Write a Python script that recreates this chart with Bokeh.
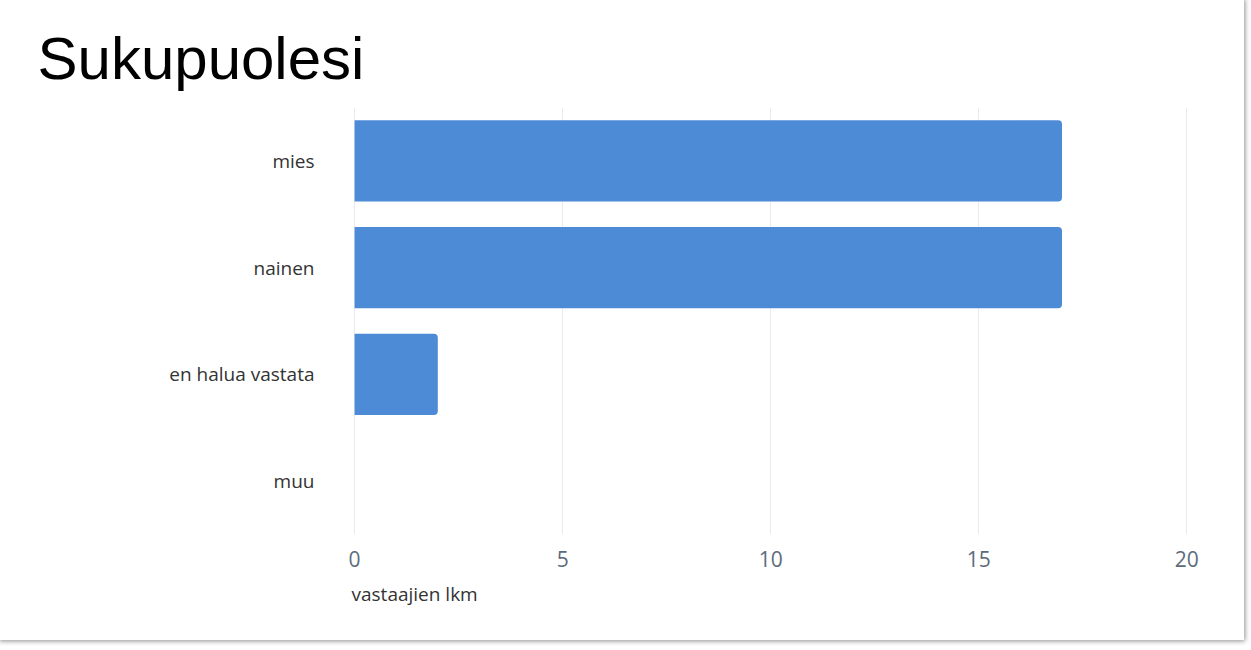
from bokeh.plotting import figure
from bokeh.models import Range1d, FactorRange, Title, FixedTicker
from bokeh.embed import file_html
from bokeh.resources import INLINE

# Data
categories = ["mies", "nainen", "en halua vastata", "muu"]
counts = [17, 17, 2, 0]
x_ticks = [0, 5, 10, 15, 20]

title_text = "Sukupuolesi"
x_title = "vastaajien lkm"

p = figure(
    width=1244, height=640,
    y_range=FactorRange(factors=list(reversed(categories))),
    x_range=Range1d(-0.05, 20.4),
    output_backend="svg", toolbar_location=None,
    min_border_left=352, min_border_right=41, min_border_top=107, min_border_bottom=106,
)
p.title = None
p.outline_line_color = None
p.background_fill_color = "white"
p.border_fill_color = "white"
p.styles = {"box-shadow": "0px 0px 5px 1px rgba(0,0,0,0.45)"}

p.hbar(y=categories, right=counts, left=0, height=0.76,
       fill_color="#4E8BD7", line_color=None, border_radius=(0, 4, 4, 0))

# axes
p.xaxis.ticker = FixedTicker(ticks=x_ticks)
p.xaxis.axis_line_color = None
p.xaxis.major_tick_line_color = None
p.xaxis.minor_tick_line_color = None
p.xaxis.major_label_text_font = "Open Sans"
p.xaxis.major_label_text_font_size = "21px"
p.xaxis.major_label_text_color = "#5c6b7b"
p.xaxis.major_label_standoff = 10

p.yaxis.axis_line_color = None
p.yaxis.major_tick_line_color = None
p.yaxis.minor_tick_line_color = None
p.yaxis.major_label_text_font = "Open Sans"
p.yaxis.major_label_text_font_size = "19px"
p.yaxis.major_label_text_color = "#333333"
p.yaxis.major_label_standoff = 32

p.xgrid.grid_line_color = "#e9ecef"
p.ygrid.grid_line_color = None

t = Title(text=title_text, align="left", offset=-315, standoff=32,
          text_font="Liberation Sans", text_font_size="60px",
          text_font_style="normal", text_color="#000000")
p.add_layout(t, "above")

xt = Title(text=x_title, align="left", offset=-1, standoff=18,
           text_font="Open Sans", text_font_size="19px",
           text_font_style="normal", text_color="#333333")
p.add_layout(xt, "below")

open("out.html", "w").write(file_html(p, INLINE))
